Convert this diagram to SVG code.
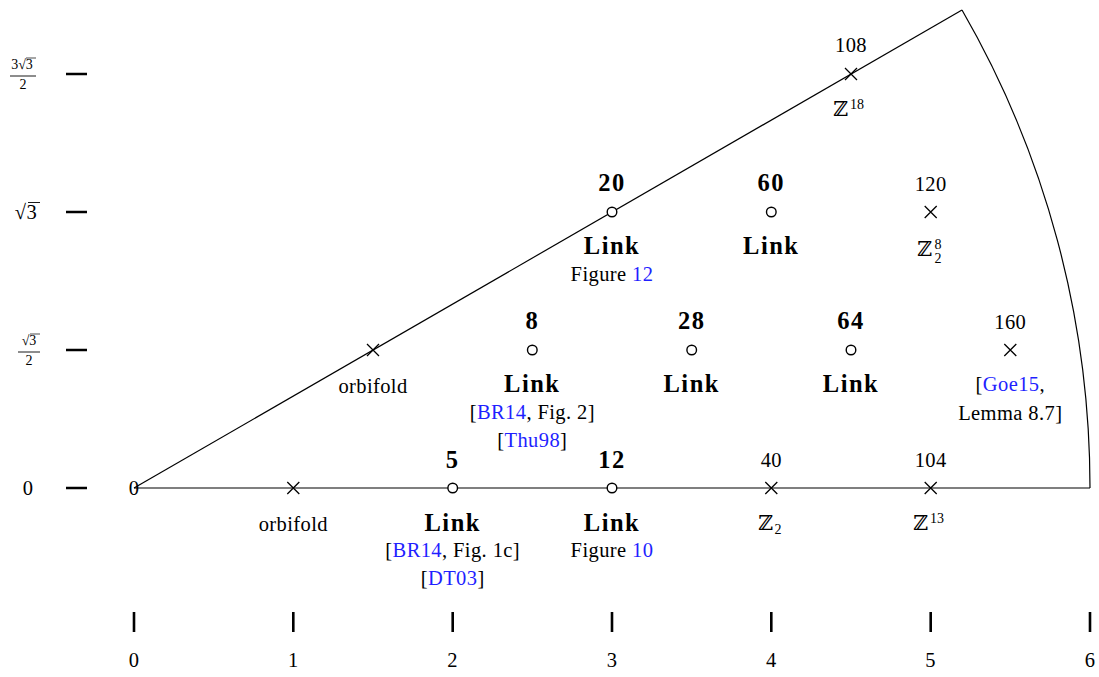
<svg xmlns="http://www.w3.org/2000/svg" width="1099" height="677" viewBox="0 0 1099 677" font-family="'Liberation Serif', 'Times New Roman', Tinos, 'DejaVu Serif', 'Noto Serif', serif">
<style>
text{font-family:'Liberation Serif','Times New Roman',Tinos,'DejaVu Serif','Noto Serif',serif;fill:#000;text-anchor:middle}
.b{font-weight:bold;font-size:24.5px;letter-spacing:1.5px}
.s{font-size:20.5px;letter-spacing:0.4px}
.t{font-size:14px}
.l{fill:#1f1fff}
.ax{stroke:#000;stroke-width:2.6}
.ln{stroke:#000;stroke-width:1.2;fill:none}
.x{stroke:#000;stroke-width:1.3}
.c{stroke:#000;stroke-width:1.4;fill:#fff}
</style>
<defs>
<path id="cross" class="x" d="M-6,-6L6,6M-6,6L6,-6"/>
<circle id="circ" class="c" r="4.8"/>
</defs>
<rect width="1099" height="677" fill="#fff"/>
<g id="axes">
<path class="ax" d="M66,74H87M66,212H87M66,350H87M66,488H87"/>
<path class="ax" d="M134,612V632M293.3,612V632M452.7,612V632M612,612V632M771.3,612V632M930.7,612V632M1090,612V632"/>
<g class="s">
<text x="134" y="667">0</text><text x="293.3" y="667">1</text><text x="452.7" y="667">2</text><text x="612" y="667">3</text><text x="771.3" y="667">4</text><text x="930.7" y="667">5</text><text x="1090" y="667">6</text>
<text x="28" y="495">0</text>
</g>
<text x="26" y="219" class="s">√3</text>
<path d="M28,202.5H40" stroke="#000" stroke-width="0.9"/>
<text x="29" y="345" class="t">√3</text>
<path d="M18,352H40" stroke="#000" stroke-width="0.9"/>
<path d="M30,334H40" stroke="#000" stroke-width="0.7"/>
<text x="29" y="365" class="t">2</text>
<text x="22" y="69" class="t">3√3</text>
<path d="M10,76H36" stroke="#000" stroke-width="0.9"/>
<path d="M26,58H36" stroke="#000" stroke-width="0.7"/>
<text x="23" y="89" class="t">2</text>
</g>
<g id="connectors">
<path class="ln" d="M134,488H1090"/>
<path class="ln" d="M134,488L962,10"/>
<path class="ln" d="M1090,488A956,956 0 0 0 962,10"/>
</g>
<g id="n00"><text x="134" y="495" class="s">0</text></g>
<g id="n10"><use href="#cross" x="293.3" y="488"/><text x="293.3" y="531" class="s">orbifold</text></g>
<g id="n20"><use href="#circ" x="452.7" y="488"/><text x="452.7" y="468" class="b">5</text><text x="452.7" y="531" class="b">Link</text>
<text x="452.7" y="557" class="s">[<tspan class="l">BR14</tspan>, Fig. 1c]</text><text x="452.7" y="585" class="s">[<tspan class="l">DT03</tspan>]</text></g>
<g id="n30"><use href="#circ" x="612" y="488"/><text x="612" y="468" class="b">12</text><text x="612" y="531" class="b">Link</text>
<text x="612" y="557" class="s">Figure <tspan class="l">10</tspan></text></g>
<g id="n40"><use href="#cross" x="771.3" y="488"/><text x="771.3" y="467" class="s">40</text><text x="766" y="530" class="s">ℤ</text><text x="778" y="534" class="t">2</text></g>
<g id="n50"><use href="#cross" x="930.7" y="488"/><text x="930.7" y="467" class="s">104</text><text x="921" y="530" class="s">ℤ</text><text x="937" y="523" class="t">13</text></g>
<g id="n15"><use href="#cross" x="373" y="350"/><text x="373" y="393" class="s">orbifold</text></g>
<g id="n25"><use href="#circ" x="532.3" y="350"/><text x="532.3" y="329" class="b">8</text><text x="532.3" y="392" class="b">Link</text>
<text x="532.3" y="419" class="s">[<tspan class="l">BR14</tspan>, Fig. 2]</text><text x="532.3" y="447" class="s">[<tspan class="l">Thu98</tspan>]</text></g>
<g id="n35"><use href="#circ" x="691.7" y="350"/><text x="691.7" y="329" class="b">28</text><text x="691.7" y="392" class="b">Link</text></g>
<g id="n45"><use href="#circ" x="851" y="350"/><text x="851" y="329" class="b">64</text><text x="851" y="392" class="b">Link</text></g>
<g id="n55"><use href="#cross" x="1010.3" y="350"/><text x="1010.3" y="329" class="s">160</text>
<text x="1010.3" y="391" class="s">[<tspan class="l">Goe15</tspan>,</text><text x="1010.3" y="420" class="s">Lemma 8.7]</text></g>
<g id="n3r"><use href="#circ" x="612" y="212"/><text x="612" y="191" class="b">20</text><text x="612" y="254" class="b">Link</text>
<text x="612" y="281" class="s">Figure <tspan class="l">12</tspan></text></g>
<g id="n4r"><use href="#circ" x="771.3" y="212"/><text x="771.3" y="191" class="b">60</text><text x="771.3" y="254" class="b">Link</text></g>
<g id="n5r"><use href="#cross" x="930.7" y="212"/><text x="930.7" y="191" class="s">120</text><text x="925" y="256" class="s">ℤ</text><text x="938" y="249" class="t">8</text><text x="938" y="263" class="t">2</text></g>
<g id="n45t"><use href="#cross" x="851" y="74"/><text x="851" y="52" class="s">108</text><text x="841" y="116" class="s">ℤ</text><text x="857" y="109" class="t">18</text></g>
</svg>
